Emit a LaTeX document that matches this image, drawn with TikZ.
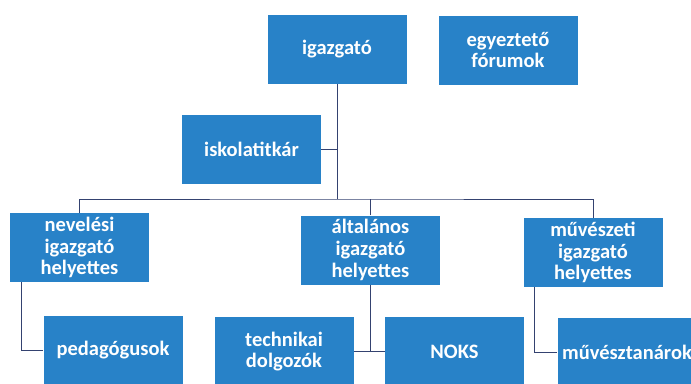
\documentclass[tikz,border=0pt]{standalone}
\usepackage{fontspec}
\setmainfont{Carlito}
\usepackage{xcolor}
\usetikzlibrary{calc}

\definecolor{boxblue}{RGB}{40,130,200}
\definecolor{linenavy}{RGB}{52,66,112}

\tikzset{
  unit/.style={fill=boxblue, text=white, inner sep=0pt, align=center,
    minimum width=139pt, minimum height=69pt,
    font=\fontsize{20.5}{21.7}\selectfont\bfseries},
  conn/.style={draw=linenavy, line width=1pt}
}

\begin{document}
\begin{tikzpicture}[x=1pt,y=-1pt]

      \useasboundingbox (0,0) rectangle (691,383);

      % top
      \node[unit] (igazgato) at (337,49) {igazgató};
      \node[unit] (forum) at (508,50) {egyeztető\\fórumok};
      \node[unit] (titkar) at (251.5,149) {iskolatitkár};

      % deputies
      \node[unit] (neveles) at (79.5,247.5) {nevelési\\igazgató\\helyettes};
      \node[unit] (altalanos) at (370.5,250) {általános\\igazgató\\helyettes};
      \node[unit] (muveszeti) at (593,252.5) {művészeti\\igazgató\\helyettes};

      % bottom row
      \node[unit] (pedagogus) at (113,350) {pedagógusok};
      \node[unit] (technikai) at (284,351.5) {technikai\\dolgozók};
      \node[unit] (noks) at (454.5,351.5) {NOKS};
      \node[unit] (tanarok) at (627,352.5) {művésztanárok};

      \coordinate (sin) at (337,199);

      \draw[conn] (igazgato.south) -- (sin);
      \draw[conn] (titkar.east) -- (titkar.east -| sin);
      \draw[conn] (neveles.north) |- (sin) -| (muveszeti.north);
      \draw[conn] (altalanos.north) -- (altalanos.north |- sin);

      \draw[conn] (neveles.south west) ++(12,0) |- (pedagogus.west);
      \draw[conn] (altalanos.south) -- (altalanos.south |- technikai.east);
      \draw[conn] (technikai.east) -- (noks.west);
      \draw[conn] (muveszeti.south west) ++(11,0) |- (tanarok.west);
    \end{tikzpicture}
\end{document}
